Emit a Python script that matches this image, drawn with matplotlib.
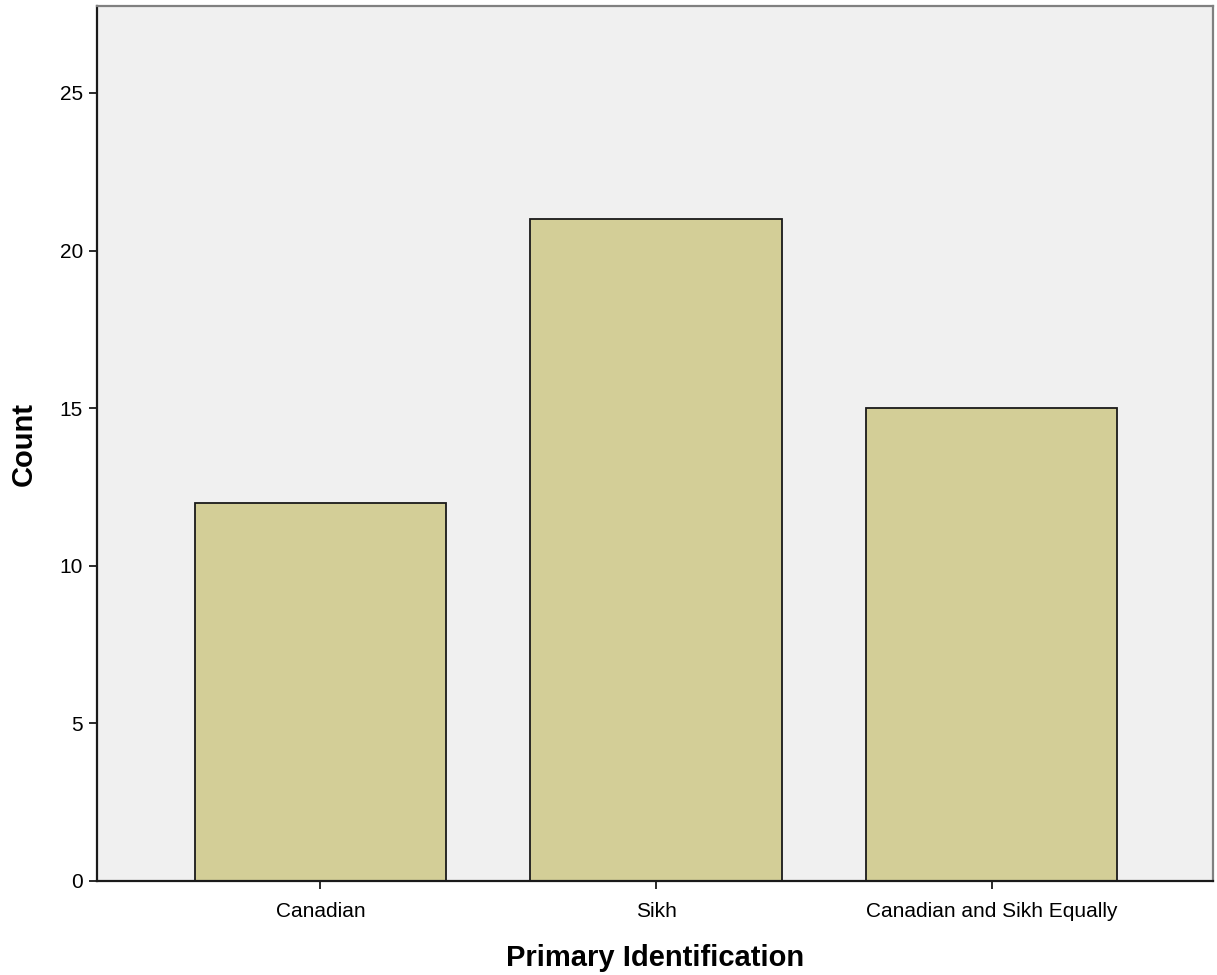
import matplotlib
matplotlib.use("Agg")
import matplotlib.pyplot as plt

categories = ["Canadian", "Sikh", "Canadian and Sikh Equally"]
counts = [12, 21, 15]
yticks = [0, 5, 10, 15, 20, 25]

plt.rcParams['font.family'] = ['Liberation Sans', 'DejaVu Sans']

fig = plt.figure(figsize=(12.17, 9.75), dpi=100)
ax = fig.add_axes([97/1217, (975-881)/975, (1213-97)/1217, (881-6)/975])
ax.set_facecolor('#F0F0F0')

x = list(range(len(categories)))
ax.bar(x, counts, width=0.75, color='#D3CE97', edgecolor='#1a1a1a', linewidth=1.3, zorder=2)

ax.set_xlim(-0.666, 2.660)
ax.set_ylim(0, 27.76)
ax.set_xticks(x)
ax.set_xticklabels(categories, fontsize=15)
ax.set_yticks(yticks)
ax.set_yticklabels([str(v) for v in yticks], fontsize=15)
ax.tick_params(axis='both', length=6, width=1.3, color='#1a1a1a')
ax.tick_params(axis='x', pad=9)
ax.tick_params(axis='y', pad=4)

for s in ['left', 'bottom']:
    ax.spines[s].set_color('#1a1a1a')
    ax.spines[s].set_linewidth(1.6)
for s in ['top', 'right']:
    ax.spines[s].set_color('#808080')
    ax.spines[s].set_linewidth(1.6)

ax.set_xlabel('Primary Identification', fontsize=21, fontweight='bold', labelpad=17)
ax.set_ylabel('Count', fontsize=21, fontweight='bold', labelpad=16)

fig.savefig('out.png', dpi=100)
